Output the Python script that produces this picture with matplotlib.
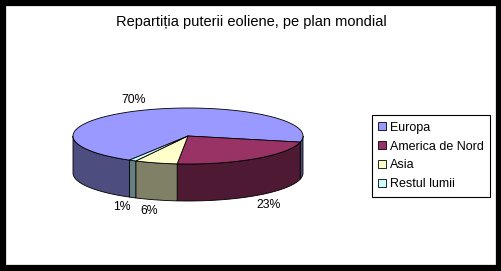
import numpy as np
import matplotlib.pyplot as plt
from matplotlib.patches import Polygon, Patch, Rectangle

# datos del grafico
regiones = ['Europa', 'America de Nord', 'Asia', 'Restul lumii']
valori = [70, 23, 6, 1]
culori = ['#9999FF', '#993366', '#FFFFCC', '#CCFFFF']
culori_lat = ['#4D4D80', '#4D1933', '#808066', '#668080']
titlu = 'Repartiția puterii eoliene, pe plan mondial'

plt.rcParams['font.family'] = ['Liberation Sans', 'DejaVu Sans']

fig = plt.figure(figsize=(5.02, 2.71), dpi=100)
ax = fig.add_axes([0, 0, 1, 1])
ax.set_xlim(0, 502)
ax.set_ylim(271, 0)
ax.axis('off')

# geometria del pastel (pixeles)
cx, cy = 188, 136
rx, ry = 115, 28
adanc = 37
start = 239.4

fractii = np.array(valori) / sum(valori)
unghiuri = start - 360 * np.concatenate([[0], np.cumsum(fractii)])

def punct(t, dz=0):
    r = np.radians(t)
    return cx + rx * np.cos(r), cy - ry * np.sin(r) + dz

# laterales (solo la parte frontal: 180..360)
for i in range(len(valori)):
    a0, a1 = unghiuri[i + 1], unghiuri[i]  # a0 < a1
    for off in (-360, 0, 360):
        lo = max(a0, 180 + off)
        hi = min(a1, 360 + off)
        if hi <= lo:
            continue
        t = np.linspace(lo, hi, 80)
        sus = [punct(v) for v in t]
        jos = [punct(v, adanc) for v in t[::-1]]
        ax.add_patch(Polygon(sus + jos, closed=True, facecolor=culori_lat[i],
                             edgecolor='black', linewidth=0.6))

# caras superiores
for i in range(len(valori)):
    t = np.linspace(unghiuri[i + 1], unghiuri[i], 200)
    pts = [(cx, cy)] + [punct(v) for v in t]
    ax.add_patch(Polygon(pts, closed=True, facecolor=culori[i],
                         edgecolor='black', linewidth=0.6))

# etiquetas de porcentaje
for i in range(len(valori)):
    mid = np.radians((unghiuri[i] + unghiuri[i + 1]) / 2)
    x = cx + 1.2 * rx * np.cos(mid)
    y = cy - 1.4 * ry * np.sin(mid)
    if np.sin(mid) < 0:
        y += adanc
    ax.text(x, y, f'{valori[i]}%', ha='center', va='center', fontsize=8.8)

ax.text(251, 22, titlu, ha='center', va='center', fontsize=10.5)

# marco exterior
ax.add_patch(Rectangle((3, 3), 496, 265, fill=False, edgecolor='black', linewidth=4.5))

handles = [Patch(facecolor=c, edgecolor='black', linewidth=0.6) for c in culori]
leg = fig.legend(handles, regiones, loc='center left',
                 bbox_to_anchor=(372 / 502, 1 - 156 / 271), fontsize=9,
                 fancybox=False, edgecolor='black', framealpha=1,
                 handlelength=0.6, handleheight=0.6, handletextpad=0.35,
                 labelspacing=0.55, borderpad=0.5, borderaxespad=0)
leg.get_frame().set_linewidth(0.8)

plt.savefig('out.png', dpi=100)
